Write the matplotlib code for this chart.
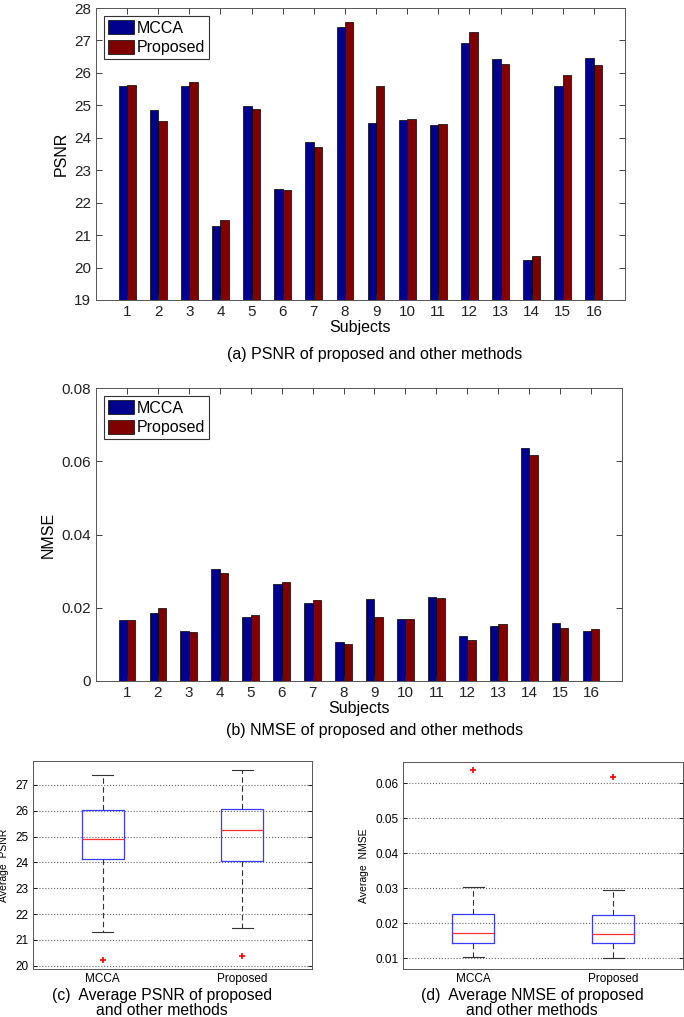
import numpy as np
import matplotlib
matplotlib.use("Agg")
import matplotlib.pyplot as plt
from matplotlib.ticker import FormatStrFormatter

# values
subjects = list(range(1, 17))
psnr_mcca = [25.60, 24.85, 25.59, 21.29, 24.99, 22.42, 23.86, 27.40,
             24.47, 24.55, 24.38, 26.92, 26.44, 20.23, 25.59, 26.46]
psnr_proposed = [25.62, 24.51, 25.71, 21.46, 24.89, 22.38, 23.72, 27.57,
                 25.59, 24.58, 24.41, 27.25, 26.27, 20.36, 25.93, 26.23]
nmse_mcca = [0.01665, 0.01856, 0.01365, 0.03048, 0.01756, 0.02657, 0.02138, 0.01056,
             0.02247, 0.01702, 0.02302, 0.01219, 0.01510, 0.06360, 0.01583, 0.01356]
nmse_proposed = [0.01665, 0.02000, 0.01328, 0.02939, 0.01793, 0.02702, 0.02211, 0.01001,
                 0.01738, 0.01683, 0.02275, 0.01128, 0.01556, 0.06180, 0.01456, 0.01420]
methods = ["MCCA", "Proposed"]

NARROW = ["Liberation Sans Narrow", "Liberation Sans", "DejaVu Sans"]
ARIAL = ["Liberation Sans", "DejaVu Sans"]

W, H = 684, 1017
fig = plt.figure(figsize=(W / 100, H / 100), dpi=100)


def axes_px(left, top, right, bottom):
    return fig.add_axes([left / W, 1 - bottom / H, (right - left) / W, (bottom - top) / H])


def bar_chart(ax, a, b, ylim, yticks, ylabel, fmt):
    x = np.array(subjects)
    w = 0.27
    ax.bar(x - w / 2, a, w, color="#00008f", edgecolor="black", lw=0.5, label=methods[0])
    ax.bar(x + w / 2, b, w, color="#800000", edgecolor="black", lw=0.5, label=methods[1])
    ax.set_xlim(0, 17)
    ax.set_ylim(*ylim)
    ax.set_xticks(x)
    ax.set_yticks(yticks)
    ax.yaxis.set_major_formatter(FormatStrFormatter(fmt))
    ax.tick_params(direction="in", top=True, right=True, length=4, width=0.6,
                   labelsize=11, colors="#222222")
    for lab in ax.get_xticklabels() + ax.get_yticklabels():
        lab.set_family(NARROW)
    for s in ax.spines.values():
        s.set_linewidth(0.7)
        s.set_color("#555555")
    ax.set_xlabel("Subjects", family=NARROW, fontsize=11.5, labelpad=1)
    ax.set_ylabel(ylabel, family=NARROW, fontsize=11.5, labelpad=4)
    leg = ax.legend(loc="upper left", fancybox=False, framealpha=1, edgecolor="#333333",
                    prop={"family": NARROW, "size": 11.5}, handlelength=1.6,
                    handleheight=1.0, handletextpad=0.2, borderpad=0.25,
                    labelspacing=0.25, borderaxespad=0.5)
    leg.get_frame().set_linewidth(0.8)


ax1 = axes_px(96, 8, 625, 300)
bar_chart(ax1, psnr_mcca, psnr_proposed, (19, 28), range(19, 29), "PSNR", "%d")
fig.text(375 / W, 1 - 355 / H, "(a) PSNR of proposed and other methods",
         family=NARROW, fontsize=11.5, ha="center", va="center")

ax2 = axes_px(96, 388, 622, 681)
bar_chart(ax2, nmse_mcca, nmse_proposed, (0, 0.08), [0, 0.02, 0.04, 0.06, 0.08], "NMSE", "%g")
fig.text(375 / W, 1 - 730 / H, "(b) NMSE of proposed and other methods",
         family=NARROW, fontsize=11.5, ha="center", va="center")


def box_stats(data, label):
    # matlab style quartiles, whiskers at 1.5 IQR
    d = np.asarray(data)
    q1, med, q3 = np.percentile(d, [25, 50, 75], method="hazen")
    iqr = q3 - q1
    inside = d[(d >= q1 - 1.5 * iqr) & (d <= q3 + 1.5 * iqr)]
    return dict(label=label, q1=q1, med=med, q3=q3,
                whislo=inside.min(), whishi=inside.max(),
                fliers=d[(d < inside.min()) | (d > inside.max())])


def box_chart(ax, a, b, ylim, yticks, ylabel, fmt, label_x):
    stats = [box_stats(a, methods[0]), box_stats(b, methods[1])]
    ax.bxp(stats, positions=[1, 2], widths=0.3,
           boxprops=dict(color="#3a3aff", lw=0.9),
           medianprops=dict(color="#ff3030", lw=0.9),
           whiskerprops=dict(color="#333333", lw=0.8, ls=(0, (5, 3))),
           capprops=dict(color="#333333", lw=0.8),
           flierprops=dict(marker="+", markeredgecolor="red", markersize=4, mew=1.2))
    ax.set_xlim(0.5, 2.5)
    ax.set_ylim(*ylim)
    ax.set_yticks(yticks)
    ax.yaxis.set_major_formatter(FormatStrFormatter(fmt))
    ax.yaxis.grid(True, ls=":", color="#666666", lw=0.8)
    ax.set_axisbelow(True)
    ax.tick_params(axis="y", direction="in", right=True, length=3, width=0.6,
                   labelsize=8.5, pad=3)
    ax.tick_params(axis="x", length=0, labelsize=8.5, pad=3)
    for lab in ax.get_xticklabels() + ax.get_yticklabels():
        lab.set_family(ARIAL)
    for s in ax.spines.values():
        s.set_linewidth(0.7)
        s.set_color("#555555")
    ax.set_ylabel(ylabel, family=ARIAL, fontsize=7.5)
    ax.yaxis.set_label_coords(label_x, 0.5)


ax3 = axes_px(33, 761, 312, 969)
box_chart(ax3, psnr_mcca, psnr_proposed, (19.87, 27.93), range(20, 28),
          "Average  PSNR", "%d", -0.085)
fig.text(162 / W, 1 - 1003 / H, "(c)  Average PSNR of proposed\nand other methods",
         family=ARIAL, fontsize=11.3, ha="center", va="center", linespacing=0.95)

ax4 = axes_px(403, 762, 683, 969)
box_chart(ax4, nmse_mcca, nmse_proposed, (0.0070, 0.066),
          [0.01, 0.02, 0.03, 0.04, 0.05, 0.06], "Average  NMSE", "%.2f", -0.122)
fig.text(532 / W, 1 - 1003 / H, "(d)  Average NMSE of proposed\nand other methods",
         family=ARIAL, fontsize=11.3, ha="center", va="center", linespacing=0.95)

fig.savefig("out.png", dpi=100)
